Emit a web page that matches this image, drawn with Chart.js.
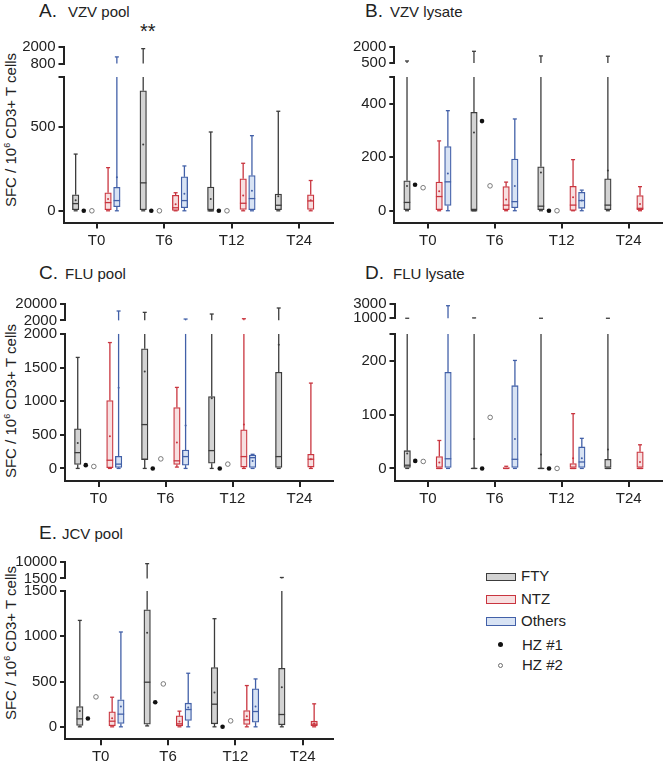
<!DOCTYPE html>
<html>
<head>
<meta charset="utf-8">
<title>SFC / 10^6 CD3+ T cells by antigen</title>
<script src="https://cdn.jsdelivr.net/npm/chart.js@4.4.1/dist/chart.umd.min.js"></script>
<style>
  html, body { margin: 0; padding: 0; background: #fff; }
  #page { position: relative; width: 667px; height: 763px; overflow: hidden;
          font-family: "Liberation Sans", Arial, sans-serif; color: #222; }
  #page canvas { position: absolute; }
  .title { position: absolute; white-space: nowrap; font-size: 19px; line-height: 20px; }
  .title span { font-size: 15px; }
  .ytitle { position: absolute; white-space: nowrap; font-size: 15px; line-height: 1;
            transform: translate(-50%, -50%) rotate(-90deg); }
  .ytitle sup { font-size: 9px; line-height: 0; vertical-align: 6px; }
  .stars { position: absolute; font-size: 20px; line-height: 20px; }
  .lg-text { position: absolute; font-size: 15px; line-height: 16px; white-space: nowrap; }
  .lg-box { position: absolute; box-sizing: border-box; width: 30px; height: 8.5px; border: 1.3px solid; }
  .lg-dot { position: absolute; box-sizing: border-box; width: 5px; height: 5px; border-radius: 50%; }
</style>
</head>
<body>
<div id="page">
  <div class="title" style="left:39px;top:1px">A.<span style="margin-left:11px">VZV pool</span></div>
  <div class="stars" style="left:140px;top:21px">**</div>
  <div class="title" style="left:365px;top:1px">B.<span style="margin-left:7px">VZV lysate</span></div>
  <div class="title" style="left:39px;top:263px">C.<span style="margin-left:7px">FLU pool</span></div>
  <div class="title" style="left:365px;top:263px">D.<span style="margin-left:9px">FLU lysate</span></div>
  <div class="title" style="left:39px;top:523px">E.<span style="margin-left:5px">JCV pool</span></div>

  <div class="ytitle" style="left:9.5px;top:130px">SFC / 10<sup>6</sup> CD3+ T cells</div>
  <div class="ytitle" style="left:9.5px;top:401px">SFC / 10<sup>6</sup> CD3+ T cells</div>
  <div class="ytitle" style="left:9.5px;top:643px">SFC / 10<sup>6</sup> CD3+ T cells</div>

  <div class="lg-box" style="left:486px;top:572.5px;background:#d3d3d3;border-color:#3c3c3c"></div>
  <div class="lg-text" style="left:521px;top:568.4px">FTY</div>
  <div class="lg-box" style="left:486px;top:595px;background:#f7dfe0;border-color:#c9353f"></div>
  <div class="lg-text" style="left:521px;top:590.7px">NTZ</div>
  <div class="lg-box" style="left:486px;top:617px;background:#d8e3f4;border-color:#4260a8"></div>
  <div class="lg-text" style="left:521px;top:612.9px">Others</div>
  <div class="lg-dot" style="left:498.2px;top:641.8px;background:#111"></div>
  <div class="lg-text" style="left:522px;top:637.4px">HZ #1</div>
  <div class="lg-dot" style="left:498.2px;top:662.5px;background:#fff;border:0.9px solid #6d6d6d"></div>
  <div class="lg-text" style="left:522px;top:657.4px">HZ #2</div>
</div>
<script>
const timepoints = ["T0", "T6", "T12", "T24"];

// box stats per timepoint: [min, q1, median, q3, max, mean]; null = no box
const vzvPoolFTY = [[0, 0, 43, 96, 339, 63], [0, 0, 167, 717, 1880, 396], [0, 0, 0, 142, 471, 71], [0, 0, 33, 100, 595, 87]];
const vzvPoolNTZ = [[0, 0, 49, 108, 258, 71], [0, 2, 18, 93, 108, 39], [0, 8, 45, 191, 284, 91], [0, 8, 59, 96, 181, 63]];
const vzvPoolOthers = [[0, 24, 61, 140, 1280, 200], [0, 18, 61, 203, 268, 102], [0, 0, 73, 211, 449, 120], null];
const vzvPoolHZ1 = [0, 0, 0, null];
const vzvPoolHZ2 = [0, 0, 0, null];
const vzvPoolTicks = [0, 500];
const vzvPoolBreak = [800, 800, 2000]; // main axis top, upper segment from, to

const vzvLysateFTY = [[0, 0, 31, 112, 700, 92], [0, 0, 0, 368, 1600, 292], [0, 0, 17, 164, 1170, 143], [0, 0, 21, 119, 1140, 150]];
const vzvLysateNTZ = [[0, 0, 53, 107, 261, 73], [0, 4, 21, 90, 107, 42], [0, 1, 21, 91, 191, 50], [0, 0, 9, 57, 90, 25]];
const vzvLysateOthers = [[0, 20, 108, 240, 374, 139], [0, 11, 34, 193, 343, 92], [0, 9, 38, 69, 77, 38], null];
const vzvLysateHZ1 = [97, 335, 0, null];
const vzvLysateHZ2 = [86, 93, 0, null];
const vzvLysateTicks = [0, 200, 400];
const vzvLysateBreak = [500, 500, 2000];

const fluPoolFTY = [[0, 59, 235, 588, 1651, 377], [0, 132, 652, 1779, 10800, 1441], [0, 78, 265, 1068, 8970, 1044], [0, 0, 176, 1431, 15600, 1838]];
const fluPoolNTZ = [[0, 10, 122, 1009, 1872, 480], [20, 59, 113, 906, 1205, 387], [0, 20, 176, 573, 3800, 652], [0, 20, 137, 211, 1269, 137]];
const fluPoolOthers = [[0, 15, 64, 181, 12300, 1200], [0, 49, 176, 274, 3450, 640], [0, 0, 160, 200, 210, 110], null];
const fluPoolHZ1 = [49, 0, 0, null];
const fluPoolHZ2 = [29, 142, 64, null];
const fluPoolTicks = [0, 500, 1000, 1500, 2000];
const fluPoolBreak = [2000, 2000, 20000];

const fluLysateFTY = [[0, 0, 6, 33, 1000, 28], [0, 0, 0, 0, 1050, 55], [0, 0, 0, 0, 1000, 26], [0, 0, 0, 17, 1000, 35]];
const fluLysateNTZ = [[0, 0, 0, 22, 52, 11], [0, 0, 0, 2, 4, null], [0, 0, 0, 9, 102, 19], [0, 0, 0, 31, 44, 12]];
const fluLysateOthers = [[0, 0, 18, 179, 2760, null], [0, 0, 17, 154, 201, 55], [0, 0, 12, 40, 56, 19], null];
const fluLysateHZ1 = [14, 0, 0, null];
const fluLysateHZ2 = [13, 95, 0, null];
const fluLysateTicks = [0, 100, 200];
const fluLysateBreak = [250, 1000, 3000];

const jcvPoolFTY = [[0, 15, 88, 224, 1176, 176], [10, 29, 493, 1294, 9150, 1040], [0, 33, 250, 654, 1195, 379], [0, 22, 136, 647, 2010, 437]];
const jcvPoolNTZ = [[0, 0, 62, 165, 327, 96], [0, 0, 33, 121, 173, 59], [0, 26, 77, 180, 456, 118], [0, 0, 29, 62, 254, 37]];
const jcvPoolOthers = [[0, 37, 140, 298, 1048, 224], [0, 70, 191, 261, 592, 213], [0, 51, 169, 419, 529, 224], null];
const jcvPoolHZ1 = [92, 272, 0, null];
const jcvPoolHZ2 = [331, 474, 66, null];
const jcvPoolTicks = [0, 500, 1000, 1500];
const jcvPoolBreak = [1500, 1500, 10000];

// styling and placement
const palette = {
  FTY: { fill: "#d3d3d3", stroke: "#3c3c3c" },
  NTZ: { fill: "#f7dfe0", stroke: "#c9353f" },
  Others: { fill: "#d8e3f4", stroke: "#4260a8" },
};
const slot = { FTY: -0.31, HZ1: -0.19, HZ2: -0.07, NTZ: 0.17, Others: 0.3 };
const ink = "#222";

const panels = [
  { fty: vzvPoolFTY, ntz: vzvPoolNTZ, others: vzvPoolOthers, hz1: vzvPoolHZ1, hz2: vzvPoolHZ2,
    ticks: vzvPoolTicks, brk: vzvPoolBreak,
    box: [0, 35, 340, 225], pad: { left: 13.5, top: 10, right: 7, bottom: 13.5 },
    seg: [16.7, 13.6, 147.2], xRange: [-0.49, 3.5], yMin: -70 },
  { fty: vzvLysateFTY, ntz: vzvLysateNTZ, others: vzvLysateOthers, hz1: vzvLysateHZ1, hz2: vzvLysateHZ2,
    ticks: vzvLysateTicks, brk: vzvLysateBreak,
    box: [330, 35, 337, 225], pad: { left: 14.3, top: 10, right: 2, bottom: 13.5 },
    seg: [16.3, 14, 147.2], xRange: [-0.5, 3.5], yMin: -44 },
  { fty: fluPoolFTY, ntz: fluPoolNTZ, others: fluPoolOthers, hz1: fluPoolHZ1, hz2: fluPoolHZ2,
    ticks: fluPoolTicks, brk: fluPoolBreak,
    box: [0, 292, 340, 222], pad: { left: 15, top: 10.5, right: 7, bottom: 9 },
    seg: [16.5, 13.7, 148.3], xRange: [-0.5, 3.5], yMin: -187 },
  { fty: fluLysateFTY, ntz: fluLysateNTZ, others: fluLysateOthers, hz1: fluLysateHZ1, hz2: fluLysateHZ2,
    ticks: fluLysateTicks, brk: fluLysateBreak,
    box: [330, 292, 337, 222], pad: { left: 14.5, top: 10.3, right: 2, bottom: 9 },
    seg: [14.4, 16, 148.3], xRange: [-0.5, 3.5], yMin: -23.4 },
  { fty: jcvPoolFTY, ntz: jcvPoolNTZ, others: jcvPoolOthers, hz1: jcvPoolHZ1, hz2: jcvPoolHZ2,
    ticks: jcvPoolTicks, brk: jcvPoolBreak,
    box: [0, 550, 340, 215], pad: { left: 15, top: 10.7, right: 7, bottom: 1.7 },
    seg: [16.6, 12.7, 149.3], xRange: [-0.53, 3.45], yMin: -138 },
];

Chart.defaults.font.family = '"Liberation Sans", Arial, sans-serif';
Chart.defaults.color = ink;

// Whiskers, caps, medians and means, drawn through the chart's own scales
const whiskerPlugin = {
  id: "whiskers",
  afterDatasetsDraw(chart) {
    const { ctx } = chart;
    const main = chart.scales.y;
    const upper = chart.scales.yTop;
    const toPx = (v) =>
      v <= main.max ? main.getPixelForValue(v) : upper.getPixelForValue(Math.min(Math.max(v, upper.min), upper.max));
    const seg = (x1, y1, x2, y2) => {
      ctx.beginPath();
      ctx.moveTo(x1, y1);
      ctx.lineTo(x2, y2);
      ctx.stroke();
    };
    chart.data.datasets.forEach((ds, i) => {
      if (!ds.stats) return;
      chart.getDatasetMeta(i).data.forEach((bar, j) => {
        const [min, q1, med, q3, max, mean] = ds.stats[j];
        const x = bar.x;
        const half = bar.width / 2;
        ctx.save();
        ctx.strokeStyle = ds.borderColor;
        ctx.fillStyle = ds.borderColor;
        ctx.lineWidth = 1.3;
        if (max > main.max) {
          seg(x, toPx(q3), x, main.top);
          seg(x, upper.bottom, x, toPx(max));
        } else {
          seg(x, toPx(q3), x, toPx(max));
        }
        seg(x - 2, toPx(max), x + 2, toPx(max));
        seg(x, toPx(q1), x, toPx(min));
        seg(x - 2, toPx(min), x + 2, toPx(min));
        seg(x - half, toPx(med), x + half, toPx(med));
        if (mean !== null) {
          ctx.beginPath();
          ctx.arc(x, toPx(mean), 1, 0, Math.PI * 2);
          ctx.fill();
        }
        ctx.restore();
      });
    });
  },
};

function boxDataset(label, stats, offset) {
  const rows = [];
  const kept = [];
  stats.forEach((s, i) => {
    if (!s) return;
    rows.push({ x: i + offset, y: [s[1], s[3]] });
    kept.push(s);
  });
  return {
    type: "bar", label, data: rows, stats: kept,
    backgroundColor: palette[label].fill, borderColor: palette[label].stroke,
    borderWidth: 1.3, borderSkipped: false, barThickness: 6.5, grouped: false,
    xAxisID: "x", yAxisID: "y",
  };
}

function pointDataset(label, values, offset, fill, stroke, strokeWidth) {
  const rows = [];
  values.forEach((v, i) => {
    if (v !== null) rows.push({ x: i + offset, y: v });
  });
  return {
    type: "scatter", label, data: rows,
    pointRadius: 2.3, pointBackgroundColor: fill, pointBorderColor: stroke, pointBorderWidth: strokeWidth,
    xAxisID: "x", yAxisID: "y",
  };
}

const page = document.getElementById("page");
const tickMarks = { drawOnChartArea: false, drawTicks: true, tickLength: 5, lineWidth: 2, color: ink };
const axisLine = { color: ink, width: 2 };

function createPanel(p) {
  const [left, top, width, height] = p.box;
  const canvas = document.createElement("canvas");
  canvas.width = width;
  canvas.height = height;
  Object.assign(canvas.style, { left: left + "px", top: top + "px", width: width + "px", height: height + "px" });
  page.appendChild(canvas);

  const [mainMax, topMin, topMax] = p.brk;
  const mainTicks = p.ticks.includes(mainMax) ? p.ticks : [...p.ticks, mainMax];

  new Chart(canvas, {
    type: "bar",
    data: {
      datasets: [
        boxDataset("FTY", p.fty, slot.FTY),
        boxDataset("NTZ", p.ntz, slot.NTZ),
        boxDataset("Others", p.others, slot.Others),
        pointDataset("HZ #1", p.hz1, slot.HZ1, "#111", "#111", 0),
        pointDataset("HZ #2", p.hz2, slot.HZ2, "#fff", "#6d6d6d", 0.9),
      ],
    },
    options: {
      responsive: false,
      animation: false,
      devicePixelRatio: 1,
      layout: { padding: p.pad },
      plugins: { legend: { display: false }, tooltip: { enabled: false } },
      scales: {
        x: {
          type: "linear", min: p.xRange[0], max: p.xRange[1], offset: false,
          afterBuildTicks: (s) => { s.ticks = timepoints.map((t, i) => ({ value: i })); },
          afterFit: (s) => { s.height = 24; },
          ticks: { callback: (v) => timepoints[v], font: { size: 15 }, padding: 3, autoSkip: false, maxRotation: 0 },
          grid: { ...tickMarks, offset: false, tickLength: 6 },
          border: axisLine,
        },
        y: {
          type: "linear", position: "left", stack: "v", stackWeight: p.seg[2],
          min: p.yMin, max: mainMax,
          afterBuildTicks: (s) => { s.ticks = mainTicks.map((v) => ({ value: v })); },
          afterFit: (s) => { s.width = 50; },
          ticks: { callback: (v) => (p.ticks.includes(v) ? String(v) : ""), font: { size: 15 }, padding: 3, autoSkip: false },
          grid: tickMarks,
          border: axisLine,
        },
        yGap: {
          type: "linear", position: "left", stack: "v", stackWeight: p.seg[1], min: 0, max: 1,
          afterFit: (s) => { s.width = 50; },
          ticks: { display: false },
          grid: { display: false },
          border: { display: false },
        },
        yTop: {
          type: "linear", position: "left", stack: "v", stackWeight: p.seg[0],
          min: topMin, max: topMax,
          afterBuildTicks: (s) => { s.ticks = [{ value: topMin }, { value: topMax }]; },
          afterFit: (s) => { s.width = 50; },
          ticks: { callback: (v) => String(v), font: { size: 15 }, padding: 3, autoSkip: false },
          grid: tickMarks,
          border: axisLine,
        },
      },
    },
    plugins: [whiskerPlugin],
  });
}

panels.forEach(createPanel);
</script>
</body>
</html>
